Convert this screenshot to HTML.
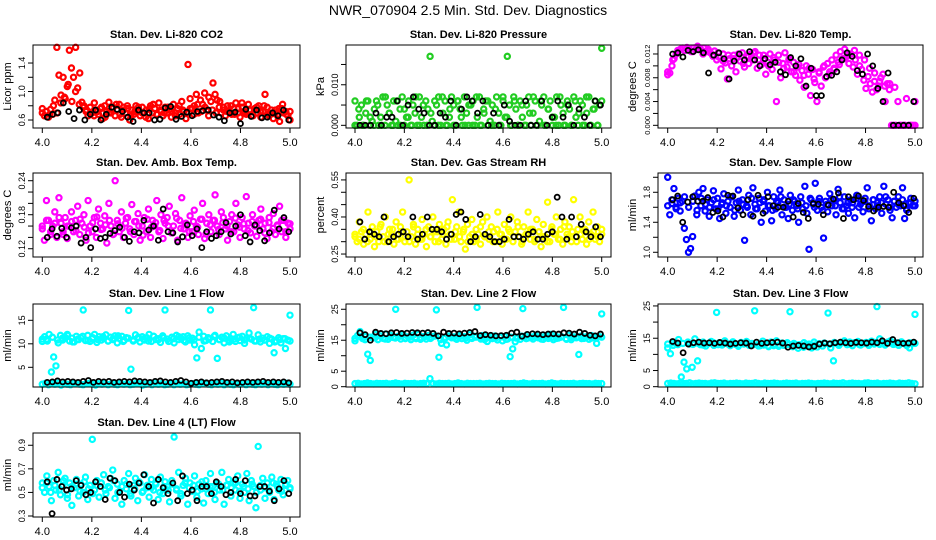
<!DOCTYPE html>
<html><head><meta charset="utf-8"><style>
html,body{margin:0;padding:0;background:#fff;}
svg{display:block;font-family:"Liberation Sans",sans-serif;}
</style></head><body>
<svg id="c" width="936" height="540" viewBox="0 0 936 540">
<text x="468" y="15" text-anchor="middle" font-size="14">NWR_070904  2.5 Min. Std. Dev. Diagnostics</text>
</svg>
<script>
const xTicks=[4.0,4.2,4.4,4.6,4.8,5.0];
const titles=["Stan. Dev. Li-820 CO2","Stan. Dev. Li-820 Pressure","Stan. Dev. Li-820 Temp.","Stan. Dev. Amb. Box Temp.","Stan. Dev. Gas Stream RH","Stan. Dev. Sample Flow","Stan. Dev. Line 1 Flow","Stan. Dev. Line 2 Flow","Stan. Dev. Line 3 Flow","Stan. Dev. Line 4 (LT) Flow"];
const yTitles=["Licor ppm","kPa","degrees C","degrees C","percent","ml/min","ml/min","ml/min","ml/min","ml/min"];
const co2=[0.70,0.66,0.72,0.64,0.75,0.68,0.88,1.62,1.23,0.95,1.20,0.90,1.07,1.58,1.33,1.20,1.62,1.05,1.26,0.85,0.80,0.72,0.66,0.78,0.70,0.84,0.74,0.68,0.76,0.62,0.80,0.72,0.85,0.70,0.78,0.66,0.74,0.82,0.64,0.78,0.70,0.76,0.60,0.74,0.68,0.80,0.72,0.66,0.78,0.70,0.74,0.62,0.80,0.70,0.76,0.68,0.84,0.72,0.66,0.78,0.70,0.74,0.64,0.82,0.70,0.76,0.68,0.86,0.72,0.62,1.38,0.90,0.76,0.80,0.96,0.70,0.88,0.82,0.98,0.74,0.92,0.86,1.12,0.96,0.88,0.78,0.70,0.74,0.66,0.80,0.72,0.68,0.76,0.84,0.70,0.64,0.78,0.72,0.68,0.82,0.74,0.66,0.76,0.70,0.80,0.64,0.72,0.96,0.78,0.66,0.70,0.62,0.74,0.68,0.58,0.76,0.70,0.72,0.66,0.60];
const co2b=[0.76,0.72,0.68,0.80,0.70,0.84,0.92,1.10,0.86,1.00,0.82,0.78,0.74,0.70,0.66,0.72,0.78,0.64,0.70,0.76,0.82,0.68,0.74,0.80,0.66,0.72,0.78,0.70,0.64,0.76,0.82,0.68,0.74,0.70,0.78,0.72,0.66,0.80,0.74,0.70,0.76,0.68,0.82,0.72,0.78,0.66,0.74,0.70,0.86,0.78,0.72,0.80,0.68,0.76,0.84,0.70,0.74,0.66,0.78,0.72,0.80,0.68,0.74,0.70,0.76,0.82,0.68,0.72];
const co2k=[0.64,0.68,0.70,0.84,0.72,0.62,0.74,0.60,0.68,0.74,0.60,0.68,0.78,0.75,0.72,0.64,0.58,0.74,0.70,0.70,0.60,0.61,0.77,0.79,0.61,0.65,0.71,0.66,0.72,0.73,0.74,0.67,0.64,0.59,0.70,0.71,0.55,0.75,0.65,0.74,0.63,0.64,0.70,0.66,0.74,0.60];
const pres=[0.006,0,0.002,0.005,0,0.003,0.006,0,0.001,0.004,0.006,0,0.002,0.007,0,0.005,0.003,0,0.006,0.001,0,0.004,0.007,0,0.002,0.006,0,0.005,0.003,0,0.007,0.002,0,0.006,0.004,0.017,0.001,0,0.005,0.007,0,0.003,0.006,0,0.002,0.007,0.005,0,0.006,0.004,0,0.007,0.003,0,0.005,0.006,0,0.002,0.007,0,0.004,0.006,0,0.001,0.005,0,0.007,0.003,0,0.006,0.002,0.017,0.005,0,0.007,0.004,0,0.006,0.002,0,0.005,0.007,0,0.003,0.006,0,0.001,0.005,0.007,0,0.004,0.006,0,0.002,0.007,0,0.005,0.003,0,0.006,0.004,0,0.007,0.002,0,0.006,0.005,0,0.003,0.007,0,0.004,0.006,0,0.005,0.019];
const presb=[0,0.004,0,0.006,0.002,0,0.005,0,0.007,0.003,0,0.006,0,0.004,0.002,0,0.007,0,0.005,0,0.003,0.006,0,0.007,0,0.004,0,0.006,0.002,0,0.005,0,0.007,0,0.003,0.006,0,0.004,0,0.007,0.002,0,0.006,0,0.005,0,0.003,0.007,0,0.006,0,0.004,0.002,0,0.007,0,0.005,0,0.006,0.003,0,0.007,0,0.004,0,0.006];
const presk=[0,0,0,0.003,0,0.002,0.002,0.006,0,0.005,0.007,0.004,0.003,0,0,0.003,0.002,0.006,0,0.004,0.007,0.006,0.003,0.006,0,0.003,0,0.005,0.001,0,0,0.006,0,0,0.006,0,0.002,0.006,0.002,0.005,0,0.004,0.002,0,0.006,0.005];
const temp=[0.0085,0.0088,0.0100,0.0112,0.0120,0.0125,0.0128,0.0130,0.0126,0.0131,0.0128,0.0124,0.0130,0.0127,0.0133,0.0129,0.0126,0.0130,0.0124,0.0128,0.0122,0.0118,0.0125,0.0110,0.0115,0.0095,0.0120,0.0105,0.0078,0.0112,0.0100,0.0118,0.0090,0.0115,0.0108,0.0122,0.0098,0.0116,0.0104,0.0120,0.0110,0.0124,0.0096,0.0118,0.0102,0.0112,0.0086,0.0106,0.0120,0.0094,0.0110,0.0040,0.0118,0.0080,0.0104,0.0122,0.0098,0.0112,0.0090,0.0106,0.0084,0.0098,0.0076,0.0092,0.0064,0.0100,0.0086,0.0050,0.0094,0.0072,0.0040,0.0088,0.0066,0.0098,0.0080,0.0104,0.0090,0.0110,0.0096,0.0118,0.0106,0.0124,0.0112,0.0128,0.0116,0.0104,0.0120,0.0098,0.0110,0.0086,0.0100,0.0094,0.0076,0.0062,0.0082,0.0070,0.0056,0.0074,0.0060,0.0066,0.0080,0.0086,0.0040,0.0070,0.0060,0,0,0,0.0040,0,0,0,0.0045,0,0,0,0.0040];
const tempb=[0.0090,0.0110,0.0126,0.0130,0.0128,0.0124,0.0129,0.0120,0.0126,0.0116,0.0122,0.0108,0.0118,0.0112,0.0120,0.0104,0.0116,0.0122,0.0110,0.0118,0.0100,0.0114,0.0106,0.0096,0.0110,0.0090,0.0102,0.0084,0.0096,0.0078,0.0090,0.0100,0.0086,0.0094,0.0102,0.0112,0.0120,0.0126,0.0118,0.0110,0.0096,0.0088,0.0074,0.0066,0.0070,0.0064,0,0,0,0];
const tempk=[0.0120,0.0122,0.0115,0.0126,0.0124,0.0127,0.0122,0.0088,0.0118,0.0122,0.0112,0.0078,0.0108,0.0120,0.0110,0.0124,0.0110,0.0100,0.0112,0.0102,0.0106,0.0090,0.0085,0.0114,0.0100,0.0112,0.0066,0.0096,0.0050,0.0050,0.0082,0.0084,0.0090,0.0110,0.0122,0.0116,0.0092,0.0086,0.0120,0.0100,0.0062,0.0040,0.0088,0,0,0,0,0.0040];
const amb=[0.155,0.135,0.205,0.170,0.145,0.160,0.185,0.140,0.210,0.165,0.150,0.175,0.138,0.160,0.185,0.150,0.170,0.195,0.145,0.165,0.180,0.135,0.205,0.160,0.150,0.175,0.140,0.190,0.165,0.155,0.178,0.130,0.200,0.160,0.145,0.240,0.170,0.150,0.185,0.140,0.165,0.175,0.155,0.198,0.145,0.168,0.182,0.135,0.160,0.175,0.150,0.190,0.140,0.170,0.160,0.205,0.150,0.180,0.138,0.165,0.175,0.195,0.148,0.160,0.182,0.135,0.170,0.210,0.155,0.165,0.140,0.178,0.150,0.188,0.160,0.145,0.172,0.200,0.138,0.165,0.180,0.150,0.170,0.215,0.160,0.145,0.185,0.175,0.155,0.135,0.168,0.180,0.150,0.200,0.162,0.140,0.175,0.155,0.212,0.165,0.148,0.180,0.160,0.142,0.170,0.190,0.155,0.165,0.138,0.175,0.150,0.182,0.145,0.160,0.195,0.150,0.170,0.140,0.165,0.155];
const ambb=[0.160,0.170,0.150,0.165,0.175,0.145,0.160,0.168,0.152,0.172,0.158,0.148,0.166,0.176,0.154,0.162,0.170,0.146,0.164,0.156,0.174,0.150,0.168,0.160,0.144,0.172,0.158,0.166,0.152,0.170,0.160,0.148,0.174,0.156,0.164,0.150,0.168,0.158,0.172,0.146,0.162,0.170,0.154,0.166,0.160,0.150,0.174,0.158,0.164,0.152,0.168,0.160,0.172,0.148,0.166,0.156,0.162,0.170,0.150,0.164];
const ambk=[0.140,0.155,0.142,0.156,0.140,0.157,0.160,0.130,0.140,0.122,0.155,0.138,0.140,0.147,0.152,0.158,0.140,0.133,0.150,0.148,0.170,0.153,0.160,0.135,0.190,0.150,0.148,0.132,0.141,0.162,0.143,0.155,0.122,0.150,0.138,0.143,0.150,0.166,0.146,0.160,0.180,0.143,0.132,0.162,0.152,0.134,0.148,0.188,0.155,0.175,0.150];
const rh=[0.32,0.30,0.38,0.34,0.29,0.33,0.42,0.31,0.36,0.28,0.34,0.30,0.37,0.32,0.40,0.30,0.35,0.33,0.29,0.38,0.31,0.36,0.42,0.30,0.34,0.55,0.32,0.37,0.29,0.35,0.31,0.39,0.33,0.28,0.36,0.32,0.40,0.30,0.34,0.37,0.31,0.35,0.29,0.38,0.33,0.47,0.31,0.36,0.42,0.30,0.34,0.27,0.37,0.32,0.39,0.30,0.35,0.33,0.29,0.38,0.32,0.40,0.31,0.36,0.34,0.30,0.42,0.33,0.29,0.37,0.31,0.35,0.40,0.30,0.34,0.38,0.32,0.29,0.36,0.33,0.42,0.31,0.35,0.30,0.39,0.34,0.28,0.37,0.32,0.46,0.30,0.36,0.33,0.40,0.31,0.35,0.29,0.38,0.33,0.36,0.30,0.47,0.32,0.35,0.40,0.31,0.34,0.29,0.38,0.33,0.42,0.31,0.36,0.30,0.35];
const rhb=[0.33,0.31,0.35,0.30,0.34,0.32,0.36,0.30,0.33,0.35,0.31,0.34,0.32,0.30,0.36,0.33,0.31,0.35,0.32,0.34,0.30,0.33,0.36,0.31,0.34,0.32,0.35,0.30,0.33,0.31,0.36,0.32,0.34,0.30,0.35,0.33,0.31,0.34,0.32,0.36,0.30,0.33,0.35,0.31,0.34,0.32,0.30,0.35,0.33,0.31,0.36,0.32,0.34,0.30,0.33,0.35,0.31,0.34,0.32,0.33];
const rhk=[0.38,0.31,0.34,0.33,0.32,0.40,0.30,0.32,0.33,0.34,0.32,0.40,0.31,0.33,0.40,0.35,0.35,0.34,0.31,0.33,0.41,0.42,0.39,0.30,0.32,0.41,0.33,0.32,0.30,0.30,0.31,0.39,0.32,0.32,0.31,0.33,0.34,0.31,0.31,0.33,0.34,0.48,0.40,0.31,0.40,0.32,0.37,0.34,0.32,0.36,0.32];
const flow=[2.0,1.50,1.65,1.85,1.60,1.72,1.55,1.68,1.32,1.17,1.00,1.05,1.21,1.75,1.50,1.80,1.62,1.85,1.55,1.70,1.48,1.66,1.82,1.58,1.72,1.45,1.64,1.78,1.52,1.68,1.60,1.74,1.48,1.66,1.83,1.56,1.70,1.16,1.62,1.76,1.50,1.86,1.64,1.58,1.72,1.40,1.68,1.55,1.80,1.62,1.42,1.74,1.58,1.66,1.83,1.50,1.70,1.60,1.45,1.76,1.56,1.68,1.62,1.40,1.74,1.58,1.88,1.52,1.04,1.70,1.64,1.92,1.56,1.72,1.60,1.19,1.68,1.54,1.78,1.62,1.70,1.50,1.84,1.66,1.58,1.74,1.62,1.52,1.70,1.66,1.46,1.76,1.60,1.68,1.54,1.72,1.86,1.62,1.42,1.70,1.58,1.66,1.74,1.52,1.88,1.64,1.70,1.56,1.46,1.68,1.60,1.74,1.62,1.86,1.45,1.56,1.66,1.72,1.62,1.68];
const flowb=[1.62,1.70,1.58,1.66,1.74,1.60,1.68,1.56,1.72,1.64,1.60,1.70,1.58,1.66,1.62,1.74,1.56,1.68,1.64,1.60,1.72,1.58,1.66,1.70,1.62,1.56,1.68,1.74,1.60,1.64,1.70,1.58,1.66,1.62,1.72,1.60,1.68,1.56,1.64,1.70,1.62,1.74,1.58,1.66,1.60,1.72,1.64,1.68,1.58,1.70,1.62,1.66,1.74,1.60,1.68,1.64,1.70,1.58,1.66,1.62];
const flowk=[1.70,1.75,1.40,1.67,1.74,1.68,1.68,1.73,1.53,1.55,1.47,1.76,1.75,1.59,1.50,1.70,1.48,1.76,1.52,1.74,1.62,1.60,1.60,1.68,1.47,1.65,1.53,1.45,1.65,1.64,1.50,1.63,1.71,1.79,1.45,1.74,1.70,1.75,1.69,1.61,1.55,1.60,1.61,1.60,1.80,1.66,1.62,1.53,1.72];
const l1=[10.5,11.5,11.0,12.0,4.0,7.2,5.3,10.2,11.8,10.8,11.4,12.0,10.6,11.2,10.4,11.6,10.9,11.3,17.2,10.7,11.8,10.5,11.1,12.0,10.3,11.5,10.8,11.2,11.9,10.6,11.4,10.9,11.7,10.2,11.1,11.6,10.7,11.3,17.1,4.6,10.6,11.9,11.2,10.4,11.5,10.8,11.3,12.0,10.5,11.6,10.9,11.1,10.3,11.7,17.2,11.0,10.6,11.4,10.2,11.8,10.9,11.2,11.5,10.4,11.7,10.8,11.2,9.8,7.0,12.5,9.0,11.6,10.7,11.3,17.2,10.5,11.8,6.9,10.9,11.4,10.2,11.7,10.8,11.1,12.0,10.5,11.3,10.7,11.6,10.1,11.2,12.3,11.0,17.7,10.6,11.9,10.4,11.2,10.8,11.5,10.1,11.0,8.1,10.6,11.3,10.2,11.1,9.0,10.8,16.1];
const l1b=[1.4,1.6,1.3,1.5,1.4,1.6,1.2,1.5,1.4,1.3,1.6,1.5,1.4,1.3,1.5,1.6,1.4,1.2,1.5,1.4,1.6,1.3,1.5,1.4,1.3,1.6,1.4,1.5,1.3,1.4,1.6,1.5,1.2,1.4,1.5,1.3,1.6,1.4,1.5,1.3,1.4,1.5,1.3,1.6,1.4,1.5,1.3,1.4,1.5,1.4,1.3,1.5,1.6,1.4,1.3,1.5,1.4,1.6,1.3,1.5,1.4,1.3,1.5,1.4,1.6,1.3,1.5,1.4,1.3,1.5,1.4,1.6,1.3,1.5,1.4,1.3,1.5,1.4,1.6,1.4];
const l1c=[11.0,10.6,11.4,10.8,11.2,11.8,10.4,11.0,11.6,10.7,11.3,10.9,11.5,10.6,11.1,11.7,10.5,11.2,10.8,11.4,11.0,10.6,11.6,10.9,11.3,10.5,11.1,11.5,10.7,11.2,10.8,11.4,10.6,11.0,11.6,10.9,11.2,10.4,11.0,11.4,10.8,11.2,10.6,11.0,10.8,11.2,10.4,10.9,11.1,10.6];
const l1k=[1.8,1.9,2.1,1.9,2.0,1.9,1.8,2.0,2.2,1.8,2.0,1.9,2.0,1.8,1.9,2.0,1.9,2.1,2.0,1.9,1.8,2.0,2.1,1.9,1.8,2.0,2.2,1.9,1.6,1.8,1.9,1.7,1.8,1.9,2.0,1.8,1.9,1.7,1.8,1.9,1.8,1.9,2.0,1.8,1.9,1.8,1.9,1.7];
const l2=[14.8,16.5,17.8,15.5,16.2,10.5,8.5,15.8,16.9,15.2,16.4,15.6,17.0,15.3,16.6,15.9,25.0,16.3,15.4,16.8,15.7,16.1,15.2,16.7,15.5,16.9,15.8,16.2,15.4,16.6,15.9,16.3,24.8,9.5,14.0,15.6,13.5,16.4,15.8,16.1,15.3,16.7,15.5,16.2,15.0,16.8,15.6,16.3,25.6,15.9,16.5,15.2,14.6,16.1,15.5,16.4,15.1,16.0,14.8,16.2,15.4,9.7,12.2,14.5,16.0,15.3,25.2,16.4,15.7,16.1,15.4,16.6,15.8,16.2,15.3,16.5,15.6,16.9,15.2,16.3,15.7,16.0,25.6,15.5,16.6,15.2,16.1,15.8,10.4,16.4,15.6,16.1,15.3,16.5,15.9,14.0,16.2,23.5];
const l2b=[1.0,1.1,0.9,1.0,1.2,1.0,0.9,1.1,1.0,1.0,1.1,0.9,1.0,1.2,1.0,0.9,1.1,1.0,1.0,1.1,0.9,1.0,1.1,1.0,2.6,1.0,0.9,1.1,1.0,1.0,1.1,0.9,1.0,1.2,1.0,0.9,1.1,1.0,1.0,1.0,1.1,0.9,1.0,1.1,1.0,1.0,0.9,1.1,1.0,1.0,1.0,1.1,0.9,1.0,1.2,1.0,0.9,1.1,1.0,1.0,1.1,0.9,1.0,1.2,1.0,0.9,1.1,1.0,1.0,1.0,1.1,0.9,1.0,1.1,1.0,1.0,0.9,1.1,1.0,1.0];
const l2c=[15.6,16.2,15.2,16.0,15.8,16.4,15.4,16.1,15.7,16.3,15.5,16.0,15.9,15.3,16.2,15.6,16.4,15.2,15.8,16.1,15.5,16.3,15.7,15.9,16.0,15.4,16.2,15.6,15.8,16.1,15.3,16.0,15.7,16.3,15.5,15.9,16.1,15.4,16.0,15.8,15.6,16.2,15.3,15.9,16.0,15.5,16.1,15.7,15.8,16.0];
const l2k=[17.4,16.8,15.0,17.6,17.2,17.1,17.4,17.5,17.2,17.3,17.5,17.4,17.3,17.5,17.2,16.4,17.6,17.2,17.3,17.1,17.3,17.5,17.8,16.5,16.8,16.6,16.4,16.5,16.6,17.3,17.6,16.3,16.9,17.1,17.0,16.8,17.0,17.1,17.0,17.4,17.3,17.0,17.6,17.2,16.6,16.4,17.0];
const l3=[12.0,10.2,12.8,13.5,14.6,3.0,7.6,5.5,13.2,6.0,14.8,8.0,13.0,13.8,12.6,13.4,14.0,12.8,23.0,13.6,12.9,14.2,13.3,12.7,13.9,13.1,12.5,13.7,13.2,14.0,12.8,13.4,23.5,13.0,12.7,14.1,13.3,12.6,13.8,13.1,14.2,12.9,13.5,12.8,13.6,23.2,12.4,13.0,11.9,12.8,12.2,13.1,12.5,12.0,12.9,12.3,13.2,12.6,13.4,22.8,12.0,8.0,13.4,12.8,13.6,14.2,13.0,13.8,12.7,13.5,14.0,12.9,13.3,13.7,12.8,14.1,13.2,24.8,14.8,13.4,12.9,13.8,14.2,13.1,13.6,12.8,13.9,13.3,12.7,12.0,13.4,22.4];
const l3b=[1.0,1.1,1.0,0.9,1.1,1.0,1.0,1.2,0.9,1.0,1.1,1.0,1.0,0.9,1.1,1.2,1.0,1.0,1.1,0.9,1.0,1.0,1.1,1.0,0.9,1.1,1.0,1.0,1.2,1.0,0.9,1.1,1.0,1.0,1.1,1.0,0.9,1.0,1.1,1.0,1.0,1.1,0.9,1.0,1.0,1.1,1.0,0.9,1.0,1.0,1.1,1.0,0.9,1.1,1.0,1.0,1.2,0.9,1.0,1.1,1.0,1.0,0.9,1.1,1.2,1.0,1.0,1.1,0.9,1.0,1.0,1.1,1.0,0.9,1.1,1.0,1.0,1.2,1.0,0.9];
const l3c=[13.2,13.6,13.0,13.4,13.8,13.1,13.5,12.9,13.3,13.7,13.0,13.4,13.2,13.6,12.8,13.3,13.5,13.0,12.6,12.9,12.4,12.7,12.5,12.8,13.1,13.4,13.0,13.6,13.2,13.8,13.3,13.5,13.1,13.7,13.4,13.9,13.2,13.6,13.0,13.5,13.3,13.7,13.1,13.4,13.6,13.2,13.5,13.3,13.6,13.4];
const l3k=[14.0,13.5,10.5,13.2,13.6,13.8,13.5,13.6,13.4,13.7,13.5,13.2,13.4,13.6,13.5,12.6,13.8,13.4,13.6,13.7,13.8,13.5,12.2,12.6,12.8,12.6,12.3,12.5,13.2,13.5,13.3,13.6,13.8,13.6,13.4,13.7,13.6,13.5,13.8,13.6,14.2,13.4,14.6,13.6,13.4,13.5,13.8];
const l4=[0.58,0.50,0.64,0.55,0.43,0.60,0.52,0.67,0.48,0.56,0.62,0.45,0.58,0.39,0.54,0.61,0.47,0.57,0.50,0.63,0.44,0.56,0.95,0.52,0.60,0.46,0.58,0.65,0.49,0.55,0.62,0.69,0.45,0.57,0.51,0.40,0.60,0.53,0.66,0.47,0.56,0.62,0.43,0.58,0.50,0.65,0.54,0.46,0.61,0.52,0.57,0.44,0.63,0.49,0.59,0.55,0.42,0.60,0.97,0.52,0.67,0.47,0.56,0.62,0.40,0.58,0.51,0.64,0.46,0.57,0.53,0.41,0.60,0.49,0.66,0.55,0.44,0.58,0.52,0.67,0.40,0.56,0.61,0.47,0.58,0.52,0.64,0.45,0.57,0.50,0.66,0.43,0.60,0.55,0.37,0.89,0.52,0.62,0.45,0.58,0.50,0.63,0.44,0.57,0.52,0.61,0.48,0.56,0.60,0.53];
const l4b=[0.54,0.58,0.50,0.56,0.52,0.60,0.48,0.55,0.57,0.51,0.59,0.53,0.49,0.56,0.58,0.52,0.54,0.60,0.50,0.55,0.57,0.49,0.53,0.59,0.51,0.56,0.54,0.58,0.50,0.55,0.52,0.57,0.53,0.49,0.58,0.54,0.56,0.51,0.59,0.53,0.55,0.50,0.57,0.52,0.56,0.54,0.58,0.51,0.55,0.53,0.57,0.50,0.56,0.54,0.52,0.58,0.55,0.51,0.57,0.54];
const l4k=[0.59,0.32,0.61,0.55,0.52,0.53,0.60,0.56,0.48,0.50,0.59,0.55,0.44,0.62,0.60,0.50,0.46,0.57,0.52,0.58,0.65,0.55,0.41,0.61,0.54,0.49,0.58,0.43,0.64,0.49,0.52,0.43,0.55,0.55,0.49,0.59,0.55,0.48,0.50,0.61,0.49,0.60,0.47,0.47,0.55,0.55,0.51,0.43,0.53,0.60,0.49];
const yTickVals=[[0.6,0.8,1.0,1.2,1.4],[0,0.005,0.010,0.015],[0,0.002,0.004,0.006,0.008,0.010,0.012],[0.12,0.14,0.16,0.18,0.20,0.22,0.24],[0.25,0.30,0.35,0.40,0.45,0.50,0.55],[1.0,1.2,1.4,1.6,1.8,2.0],[5,10,15],[0,5,10,15,20,25],[0,5,10,15,20,25],[0.3,0.5,0.7,0.9]];
const yTickLabels=[["0.6","","1.0","","1.4"],["0.000","","0.010",""],["0.000","","0.004","","0.008","","0.012"],["0.12","","","0.18","","","0.24"],["0.25","","","0.40","","","0.55"],["1.0","","1.4","","1.8",""],["5","10","15"],["0","5","","15","","25"],["0","5","","15","","25"],["0.3","0.5","0.7","0.9"]];
const yDomains=[[0.488,1.653],[-0.00066,0.0198],[-0.00045,0.01351],[0.1054,0.2536],[0.238,0.578],[0.937,2.057],[0.81,18.47],[-0.1,26.7],[-0.1,25.6],[0.2915,1.004]];
const mainSeries=[[co2,co2b],[pres,presb],[temp,tempb],[amb,ambb],[rh,rhb],[flow,flowb],[l1,l1b,l1c],[l2,l2b,l2c],[l3,l3b,l3c],[l4,l4b]];
const blackSeries=[co2k,presk,tempk,ambk,rhk,flowk,l1k,l2k,l3k,l4k];
const colors=["#ff0000","#22cc22","#ff00ff","#ff00ff","#ffff00","#0000ff","#00ffff","#00ffff","#00ffff","#00ffff"];
const cols=[{l:33,r:300,x0:42.3,x1:290},{l:346,r:611,x0:355,x1:601.7},{l:658,r:923,x0:667.7,x1:915}];
const rows=[{t:45,b:128},{t:173,b:257},{t:304,b:387},{t:433,b:517}];
const NS="http://www.w3.org/2000/svg";
const svg=document.getElementById('c');
function mk(tag,attrs,parent){const e=document.createElementNS(NS,tag);for(const k in attrs)e.setAttribute(k,attrs[k]);(parent||svg).appendChild(e);return e;}
titles.forEach((title,p)=>{
  const c=cols[p%3],r=rows[Math.floor(p/3)];
  const g=mk('g',{});
  
  
  const xS=v=>c.x0+(v-4)*(c.x1-c.x0);
  const [lo,hi]=yDomains[p];
  const yS=v=>r.b-(v-lo)/(hi-lo)*(r.b-r.t);
  const t=mk('text',{x:(c.l+c.r)/2,y:r.t-7,'text-anchor':'middle','font-size':'11','font-weight':'bold'},g);
  t.textContent=title;
  
  
  mainSeries[p].forEach(arr=>{
    const sg=mk('g',{fill:'none',stroke:colors[p],'stroke-width':2.2},g);
    
    
    arr.forEach((v,i)=>{
      const pt=mk('circle',{cx:xS(4+i/(arr.length-1)),cy:yS(v),r:2.6},sg);
      
      
    });
  });
  const kg=mk('g',{fill:'none',stroke:'#000','stroke-width':1.8},g);
  
  
  const ka=blackSeries[p];
  ka.forEach((v,i)=>{
    const pt=mk('circle',{cx:xS(4.02+0.975*i/(ka.length-1)),cy:yS(v),r:2.5},kg);
    
    
  });
  const box=mk('rect',{x:c.l,y:r.t,width:c.r-c.l,height:r.b-r.t,fill:'none',stroke:'#000','stroke-width':1},g);
  
  
  const xa=mk('g',{},g);
  
  
  mk('line',{x1:xS(4),x2:xS(5),y1:r.b,y2:r.b,stroke:'#000'},xa);
  xTicks.forEach(v=>{
    mk('line',{x1:xS(v),x2:xS(v),y1:r.b,y2:r.b+5,stroke:'#000'},xa);
    const tl=mk('text',{x:xS(v),y:r.b+18,'text-anchor':'middle','font-size':'11'},xa);
    tl.textContent=v.toFixed(1);
    
    
  });
  const ya=mk('g',{},g);
  
  
  const tv=yTickVals[p];
  mk('line',{x1:c.l,x2:c.l,y1:yS(tv[0]),y2:yS(tv[tv.length-1]),stroke:'#000'},ya);
  const fs=p===2?'7.5':'9';
  tv.forEach((v,i)=>{
    mk('line',{x1:c.l-5,x2:c.l,y1:yS(v),y2:yS(v),stroke:'#000'},ya);
    const lab=yTickLabels[p][i];
    if(lab){
      const tl=mk('text',{x:c.l-8,y:yS(v),'text-anchor':'middle','font-size':fs,transform:`rotate(-90 ${c.l-8} ${yS(v)})`},ya);
      tl.textContent=lab;
      
      
    }
  });
  const yt=mk('text',{x:c.l-22,y:(r.t+r.b)/2,'text-anchor':'middle','font-size':'11',transform:`rotate(-90 ${c.l-22} ${(r.t+r.b)/2})`},g);
  yt.textContent=yTitles[p];
  
  
});
</script>
</body></html>
